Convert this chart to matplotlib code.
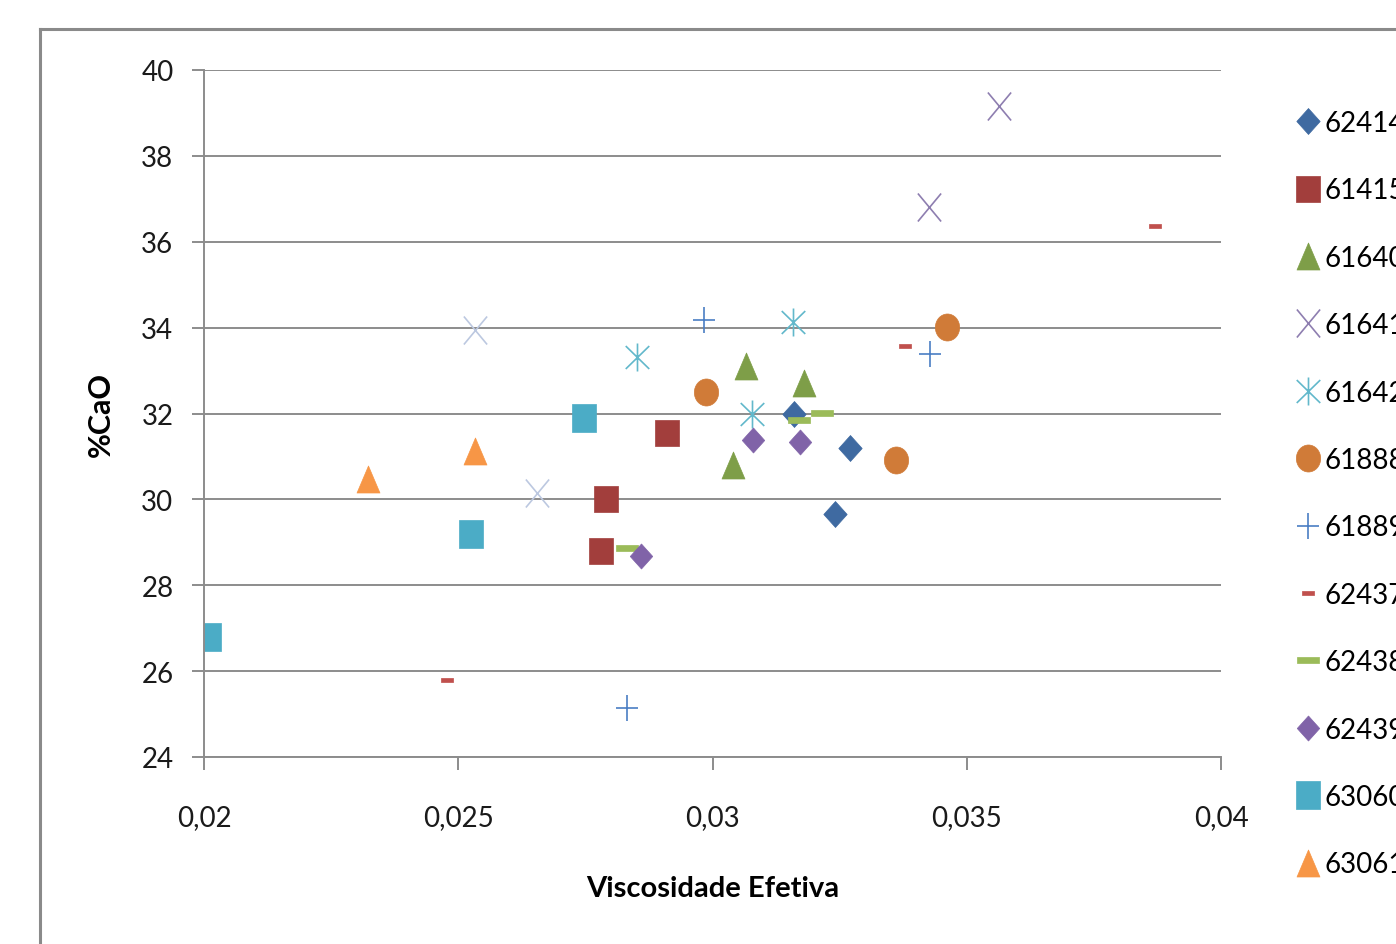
import numpy as np
import matplotlib.pyplot as plt
from matplotlib.path import Path
from matplotlib.lines import Line2D
from matplotlib.transforms import Affine2D

plt.rcParams['font.family'] = ['Lato', 'DejaVu Sans']

# data
labels = ['62414', '61415', '61640', '61641', '61642', '61888',
          '61889', '62437', '62438', '62439', '63060', '63061']

x_62414 = [0.0316, 0.0327, 0.0324]
y_62414 = [32.0, 31.2, 29.65]
x_61415 = [0.0291, 0.0279, 0.0278]
y_61415 = [31.55, 30.0, 28.8]
x_61640 = [0.03065, 0.0318, 0.0304]
y_61640 = [33.1, 32.7, 30.8]
x_61641 = [0.03563, 0.03426]
y_61641 = [39.15, 36.8]
x_61642 = [0.02852, 0.03158, 0.03078]
y_61642 = [33.32, 34.13, 31.99]
x_61888 = [0.02987, 0.03461, 0.03361]
y_61888 = [32.5, 34.01, 30.92]
x_61889 = [0.02983, 0.03428, 0.02832]
y_61889 = [34.18, 33.39, 25.14]
x_62437 = [0.0387, 0.03379, 0.02478]
y_62437 = [36.37, 33.57, 25.79]
x_62438 = [0.02832, 0.03215, 0.0317]
y_62438 = [28.87, 32.01, 31.85]
x_62439 = [0.0308, 0.03172, 0.02859]
y_62439 = [31.38, 31.34, 28.68]
x_63060 = [0.02747, 0.02525, 0.0201]
y_63060 = [31.9, 29.19, 26.8]
x_63061 = [0.02323, 0.02533]
y_63061 = [30.48, 31.13]
# extra light X points (no legend entry visible)
x_extra = [0.02533, 0.02655]
y_extra = [33.95, 30.15]

xticks = [0.02, 0.025, 0.03, 0.035, 0.04]
xtick_labels = ['0,02', '0,025', '0,03', '0,035', '0,04']
yticks = [24, 26, 28, 30, 32, 34, 36, 38, 40]


def poly(pts):
    return Path(pts + [pts[0]], [Path.MOVETO] + [Path.LINETO] * (len(pts) - 1) + [Path.CLOSEPOLY])


def lines(segs):
    verts, codes = [], []
    for a, b in segs:
        verts += [a, b]
        codes += [Path.MOVETO, Path.LINETO]
    return Path(verts, codes)


DIAMOND = poly([(0, 1), (0.9, 0), (0, -1), (-0.9, 0)])
SQUARE = poly([(-0.86, -1), (0.86, -1), (0.86, 1), (-0.86, 1)])
TRIANGLE = poly([(0, 1), (0.85, -1), (-0.85, -1)])
ELLIPSE = Path.unit_circle().transformed(Affine2D().scale(0.9, 1))
XMARK = lines([((-0.83, -1), (0.83, 1)), ((-0.83, 1), (0.83, -1))])
STAR = lines([((0, -1), (0, 1)), ((-0.84, -0.82), (0.84, 0.82)), ((-0.84, 0.82), (0.84, -0.82))])
PLUS = lines([((-0.88, 0), (0.88, 0)), ((0, -1), (0, 1))])
SMALLDASH = poly([(-1, -0.4), (1, -0.4), (1, 0.4), (-1, 0.4)])
LONGDASH = poly([(-1, -0.27), (1, -0.27), (1, 0.27), (-1, 0.27)])

px = 1 / 1.3889
styles = [
    (DIAMOND, '#3F6AA1', 26 * px, True),
    (SQUARE, '#A23E3C', 27 * px, True),
    (TRIANGLE, '#7E9E48', 27 * px, True),
    (XMARK, '#8E7EB0', 28 * px, False),
    (STAR, '#62B8CB', 28 * px, False),
    (ELLIPSE, '#D07B38', 27 * px, True),
    (PLUS, '#4A7EC4', 26 * px, False),
    (SMALLDASH, '#C0504D', 12 * px, True),
    (LONGDASH, '#9BBB59', 22 * px, True),
    (DIAMOND, '#8063A8', 25 * px, True),
    (SQUARE, '#4BACC6', 28 * px, True),
    (TRIANGLE, '#F79646', 27 * px, True),
]
series = [(x_62414, y_62414), (x_61415, y_61415), (x_61640, y_61640), (x_61641, y_61641),
          (x_61642, y_61642), (x_61888, y_61888), (x_61889, y_61889), (x_62437, y_62437),
          (x_62438, y_62438), (x_62439, y_62439), (x_63060, y_63060), (x_63061, y_63061)]

fig = plt.figure(figsize=(13.96, 9.45), dpi=100)
ax = fig.add_axes([204 / 1396, 1 - 758 / 945, (1221 - 204) / 1396, (758 - 71) / 945])

grid_c = '#8C8C8C'
ax.set_xlim(0.02, 0.04)
ax.set_ylim(24, 40)
ax.set_xticks(xticks)
ax.set_xticklabels(xtick_labels)
ax.set_yticks(yticks)
ax.yaxis.grid(True, color=grid_c, linewidth=1.4)
ax.set_axisbelow(True)
for s in ['top', 'right']:
    ax.spines[s].set_visible(False)
for s in ['left', 'bottom']:
    ax.spines[s].set_color(grid_c)
    ax.spines[s].set_linewidth(1.4)
ax.tick_params(axis='both', color=grid_c, width=1.4, length=9, labelsize=20, labelcolor='#1a1a1a')
ax.tick_params(axis='x', pad=25)
ax.tick_params(axis='y', pad=13)

handles = []
for (xs, ys), (m, c, ms, filled), lab in zip(series, styles, labels):
    if filled:
        kw = dict(markerfacecolor=c, markeredgecolor=c, markeredgewidth=0.5)
    else:
        kw = dict(markerfacecolor='none', markeredgecolor=c, markeredgewidth=1.2)
    h, = ax.plot(xs, ys, linestyle='none', marker=m, markersize=ms, label=lab, **kw)
    handles.append(h)

ax.plot(x_extra, y_extra, linestyle='none', marker=XMARK, markersize=28 * px,
        markerfacecolor='none', markeredgecolor='#BCC8E0', markeredgewidth=1.2)

ax.set_xlabel('Viscosidade Efetiva', fontsize=21, fontweight='bold', labelpad=32)
ax.set_ylabel('%CaO', fontsize=22, fontweight='bold', labelpad=19)

fig.legend(handles=handles, loc='upper left', bbox_to_anchor=(1297 / 1396, 1 - 111 / 945),
           frameon=False, fontsize=20, labelspacing=1.49, handlelength=0.8,
           handletextpad=0.2, borderpad=0, borderaxespad=0, numpoints=1)

# outer chart frame
fig.add_artist(Line2D([40 / 1396, 40 / 1396], [0, 1 - 30 / 945], color='#8A8A8A', linewidth=2.2))
fig.add_artist(Line2D([40 / 1396, 1], [1 - 30 / 945, 1 - 30 / 945], color='#8A8A8A', linewidth=2.2))

fig.savefig('out.png', dpi=100)
